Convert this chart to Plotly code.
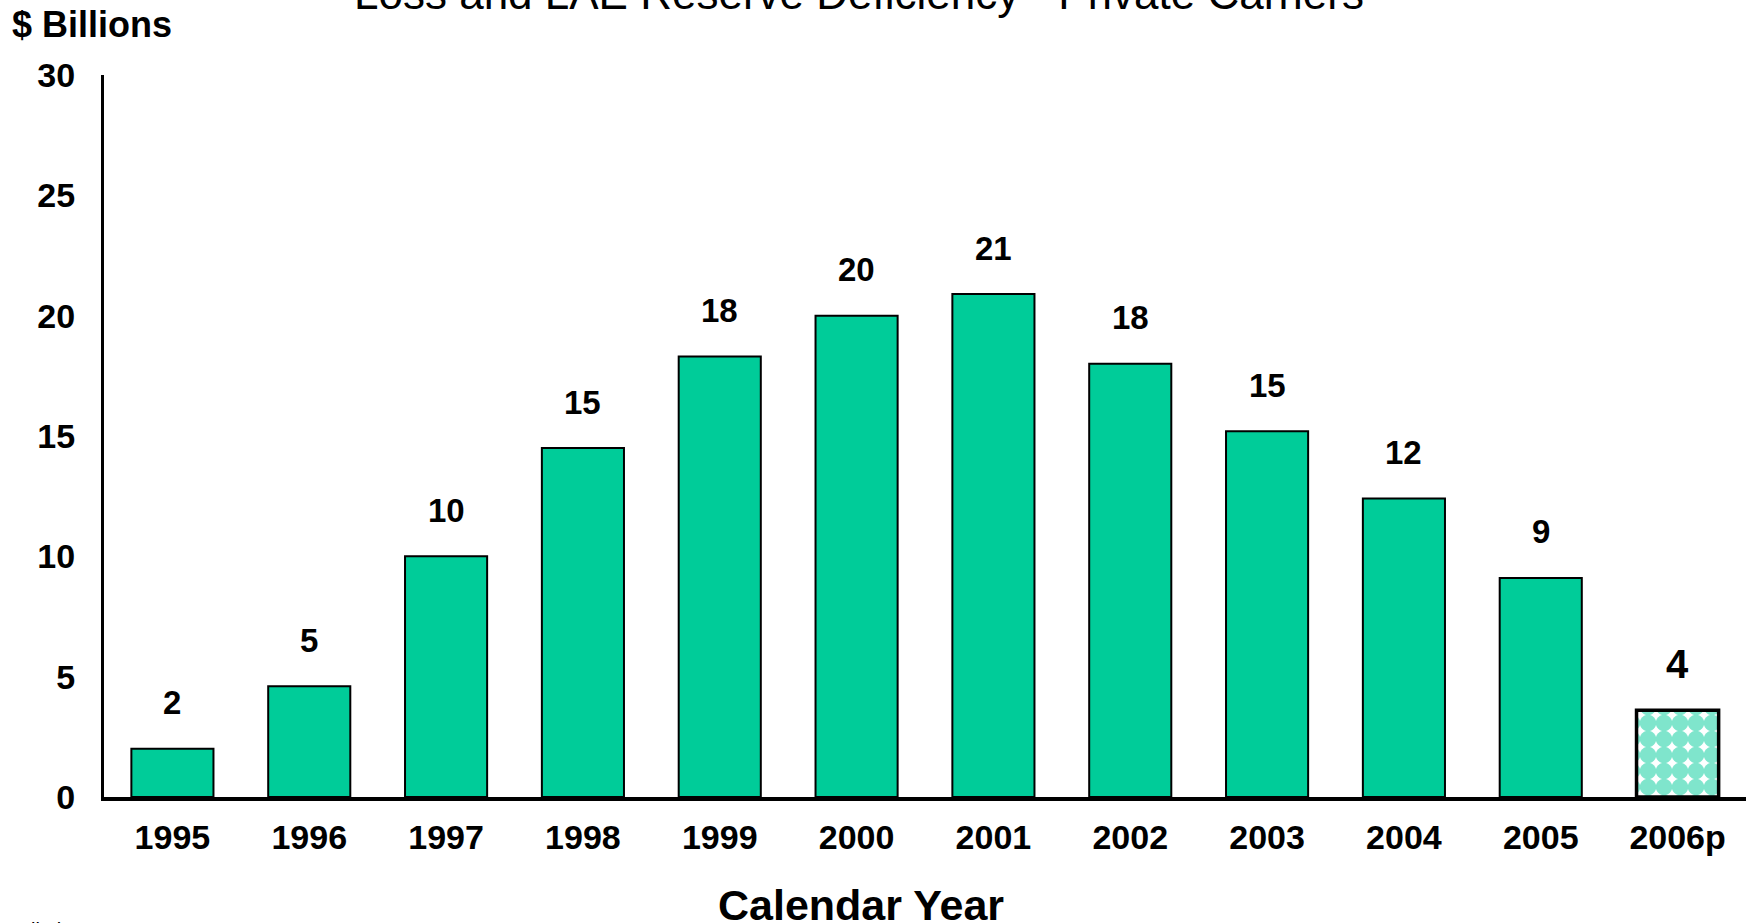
import plotly.graph_objects as go

years = ["1995", "1996", "1997", "1998", "1999", "2000", "2001", "2002", "2003", "2004", "2005", "2006p"]
values = [2.0, 4.6, 10.0, 14.5, 18.3, 20.0, 20.9, 18.0, 15.2, 12.4, 9.1, 3.6]
labels = ["2", "5", "10", "15", "18", "20", "21", "18", "15", "12", "9", "4"]
y_ticks = [0, 5, 10, 15, 20, 25, 30]

GREEN = "#00CC99"
FONT = "Liberation Sans, Arial, sans-serif"

fig = go.Figure()
fig.add_trace(go.Bar(
    x=years[:-1], y=values[:-1], width=0.6,
    marker=dict(color=GREEN, line=dict(color="black", width=2)),
    hoverinfo="x+y",
))
fig.add_trace(go.Bar(
    x=years[-1:], y=values[-1:], width=0.6,
    marker=dict(color="white", line=dict(color="black", width=3.5),
                pattern=dict(shape=".", fgcolor=GREEN, bgcolor="white", size=16, solidity=0.8)),
    hoverinfo="x+y",
))

annotations = []
for i, (v, lab) in enumerate(zip(values, labels)):
    last = i == len(years) - 1
    annotations.append(dict(
        x=i, y=v, xref="x", yref="y", text=lab, showarrow=False,
        yanchor="middle", yshift=46,
        font=dict(family=FONT, size=40 if last else 33, color="black", weight="bold"),
    ))

annotations += [
    dict(x=0.5, y=1, xref="paper", yref="paper", text="Loss and LAE Reserve Deficiency - Private Carriers",
         showarrow=False, xanchor="center", yanchor="middle", yshift=82, xshift=-66,
         font=dict(family=FONT, size=44, color="black")),
    dict(x=0, y=1, xref="paper", yref="paper", text="$ Billions", showarrow=False,
         xanchor="left", yanchor="middle", xshift=-94, yshift=51,
         font=dict(family=FONT, size=36, color="black", weight="bold")),
    dict(x=0.461, y=0, xref="paper", yref="paper", text="Calendar Year", showarrow=False,
         xanchor="center", yanchor="middle", yshift=-108,
         font=dict(family=FONT, size=43, color="black", weight="bold")),
    dict(x=0, y=0, xref="paper", yref="paper", text="Preliminary", showarrow=False,
         xanchor="left", yanchor="top", xshift=-106, yshift=-120,
         font=dict(family=FONT, size=20, color="black")),
]

fig.update_layout(
    width=1746, height=923,
    margin=dict(l=104, r=0, t=75, b=126),
    paper_bgcolor="white", plot_bgcolor="white",
    showlegend=False, barmode="overlay",
    annotations=annotations,
    font=dict(family=FONT, color="black"),
)
fig.update_xaxes(
    type="category", categoryorder="array", categoryarray=years, range=[-0.5, 11.5],
    showline=True, linecolor="black", linewidth=4, ticks="", showgrid=False, zeroline=False,
    tickfont=dict(family=FONT, size=34, color="black", weight="bold"),
    ticklabelstandoff=7,
)
fig.update_yaxes(
    range=[0, 30], tickvals=y_ticks, showline=True, linecolor="black", linewidth=3,
    ticks="", showgrid=False, zeroline=False,
    tickfont=dict(family=FONT, size=34, color="black", weight="bold"),
    ticklabelstandoff=19,
)

fig.write_html("out.html")
